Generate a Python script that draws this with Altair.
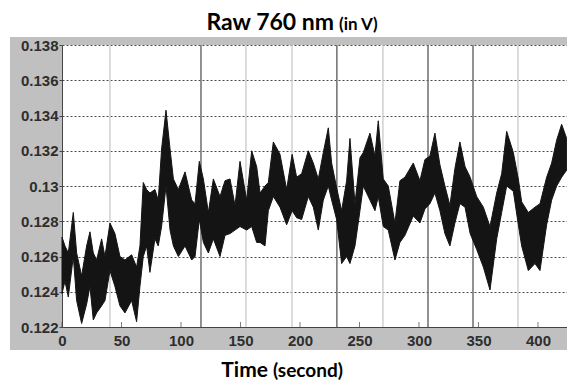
import altair as alt
import pandas as pd

# ---- data ----
t = [0, 2.5, 5.3, 9.5, 12.3, 16.5, 20.7, 23.5, 26.3, 29.1,
     33.3, 36.1, 40.3, 44.5, 48.7, 52.9, 58.5, 62.7, 65.5, 68.3,
     71.1, 73.9, 78.1, 80.9, 83.7,
     87.4, 90.8, 93.6, 97.8, 103.4, 109.0, 111.8, 115.4, 118.8, 123.0,
     127.2, 132.8, 137.0, 141.2, 145.4, 149.6, 155.2, 159.4, 163.6,
     166.4, 170.6, 173.4, 177.6, 183.2, 188.8, 193.4, 197.2, 201.4, 207.0,
     211.2, 215.4, 219.6, 223.8, 226.6, 230.8, 235.0, 239.2, 242.0, 246.2,
     250.4,
     253.2, 258.8, 263.0, 265.8, 270.0, 274.2, 279.8, 284.0, 288.2, 295.2,
     300.8, 305.0, 309.2, 313.4, 317.6, 321.8, 326.0, 330.2, 334.4,
     338.7, 343.0, 348.5, 354.1, 359.7, 365.3, 369.5, 373.7, 379.3, 383.5,
     386.3, 391.9, 397.5, 401.7, 407.3, 411.5, 415.7, 419.9, 424.1]

hi = [0.1271, 0.1266, 0.1262, 0.1285, 0.1262, 0.1249, 0.1266, 0.1274, 0.1262, 0.1258,
      0.1270, 0.1260, 0.1279, 0.1273, 0.1260, 0.1258, 0.1261, 0.1254, 0.1266, 0.1302,
      0.1298, 0.1296, 0.1298, 0.1292, 0.1321,
      0.1343, 0.1321, 0.1304, 0.1298, 0.1308, 0.1292, 0.1290, 0.1314, 0.1304, 0.1285,
      0.1304, 0.1294, 0.1303, 0.1304, 0.1289, 0.1314, 0.1292, 0.1320, 0.1311,
      0.1296, 0.1300, 0.1302, 0.1325, 0.1318, 0.1298, 0.1318, 0.1305, 0.1307, 0.1320,
      0.1313, 0.1304, 0.1319, 0.1333, 0.1313, 0.1299, 0.1286, 0.1303, 0.1327, 0.1290,
      0.1316,
      0.1319, 0.1330, 0.1317, 0.1337, 0.1304, 0.1300, 0.1279, 0.1303, 0.1305, 0.1313,
      0.1303, 0.1315, 0.1317, 0.1330, 0.1312, 0.1300, 0.1289, 0.1310, 0.1325,
      0.1311, 0.1305, 0.1294, 0.1288, 0.1277, 0.1296, 0.1307, 0.1331, 0.1319, 0.1304,
      0.1291, 0.1285, 0.1288, 0.1290, 0.1305, 0.1313, 0.1326, 0.1335, 0.1327]

lo = [0.1239, 0.1246, 0.1237, 0.1260, 0.1235, 0.1222, 0.1233, 0.1243, 0.1224, 0.1228,
      0.1232, 0.1235, 0.1252, 0.1243, 0.1232, 0.1228, 0.1235, 0.1223, 0.1243, 0.1260,
      0.1266, 0.1251, 0.1270, 0.1266, 0.1277,
      0.1300, 0.1275, 0.1266, 0.1260, 0.1266, 0.1258, 0.1260, 0.1281, 0.1268, 0.1262,
      0.1270, 0.1260, 0.1272, 0.1273, 0.1275, 0.1277, 0.1275, 0.1277, 0.1268,
      0.1268, 0.1266, 0.1286, 0.1294, 0.1288, 0.1278, 0.1286, 0.1282, 0.1281, 0.1294,
      0.1288, 0.1275, 0.1292, 0.1300, 0.1292, 0.1281, 0.1256, 0.1260, 0.1256, 0.1266,
      0.1286,
      0.1300, 0.1292, 0.1286, 0.1294, 0.1277, 0.1275, 0.1258, 0.1268, 0.1272, 0.1283,
      0.1279, 0.1287, 0.1290, 0.1296, 0.1286, 0.1273, 0.1266, 0.1279, 0.1290,
      0.1288, 0.1273, 0.1264, 0.1254, 0.1241, 0.1270, 0.1285, 0.1300, 0.1297, 0.1278,
      0.1266, 0.1252, 0.1256, 0.1252, 0.1278, 0.1292, 0.1300, 0.1305, 0.1309]

event_t = [40.3, 116.8, 154.6, 193.3, 231.0, 269.7, 307.6, 345.4, 383.2]
event_kind = ["light", "dark", "light", "light", "dark", "light", "dark", "dark", "light"]

x_ticks = [0, 50, 100, 150, 200, 250, 300, 350, 400]
y_ticks = [0.122, 0.124, 0.126, 0.128, 0.130, 0.132, 0.134, 0.136, 0.138]

title_main = "Raw 760 nm"
title_unit = "(in V)"
xlab_main = "Time"
xlab_unit = "(second)"

# ---- chart ----
W, H = 505, 282
PAD_L, PAD_T = 62, 45

sig = pd.DataFrame({"t": t, "hi": hi, "lo": lo})
ev = pd.DataFrame({"t": event_t, "kind": event_kind})
xt = pd.DataFrame({"t": x_ticks})
one = pd.DataFrame({"a": [0]})

xs = alt.Scale(domain=[0, 424.4], nice=False, zero=False)
ys = alt.Scale(domain=[0.122, 0.138], nice=False, zero=False)

lab = dict(labelFont="Liberation Sans", labelFontSize=15, labelFontWeight="bold",
           labelColor="#2e2e2e")

x_axis = alt.Axis(values=x_ticks, grid=False, ticks=False, domainColor="#444",
                  domainWidth=1, labelPadding=6, labelFlush=False,
                  labelOverlap=False, title=None, **lab)
y_axis = alt.Axis(values=y_ticks, format=".3~f", grid=True, gridDash=[2, 2],
                  gridColor="#4a4a4a", gridWidth=1, domainColor="#444", domainWidth=1,
                  tickColor="#444", tickSize=3, labelPadding=1, labelOverlap=False,
                  title=None, **lab)

x_enc = alt.X("t:Q", scale=xs, axis=x_axis, title=None)


def strip(x0, x1, y0, y1):
    return alt.Chart(one).mark_rect(color="white", clip=False).encode(
        x=alt.value(x0), x2=alt.value(x1), y=alt.value(y0), y2=alt.value(y1))


strips = [
    strip(-PAD_L, W, -PAD_T, -8),        # above gray frame
    strip(-PAD_L, W, 305, 383 - PAD_T),  # below gray frame
    strip(-PAD_L, -52, -8, 305),         # left of gray frame
]

rules = alt.Chart(ev).mark_rule(strokeWidth=1.5).encode(
    x=x_enc,
    color=alt.Color("kind:N", scale=alt.Scale(domain=["dark", "light"],
                                              range=["#6e6e6e", "#d0d0d0"]),
                    legend=None))

area = alt.Chart(sig).mark_area(color="#141414", stroke="#141414",
                                strokeWidth=1.0).encode(
    x=x_enc,
    y=alt.Y("lo:Q", scale=ys, axis=y_axis, title=None),
    y2="hi:Q")

ticks = alt.Chart(xt).mark_tick(color="#444", size=5, thickness=1).encode(
    x=x_enc, y=alt.value(H - 2.5))


def txt(s, x, y, size, align):
    return alt.Chart(pd.DataFrame({"s": [s]})).mark_text(
        align=align, baseline="alphabetic", font="Lato", fontWeight="bold",
        fontSize=size, color="black", clip=False).encode(
        text="s:N", x=alt.value(x), y=alt.value(y))


texts = [
    txt(title_main, 334 - PAD_L, 30 - PAD_T, 23, "right"),
    txt(title_unit, 339 - PAD_L, 30 - PAD_T, 17, "left"),
    txt(xlab_main, 268 - PAD_L, 377 - PAD_T, 21, "right"),
    txt(xlab_unit, 273 - PAD_L, 377 - PAD_T, 19, "left"),
]

chart = alt.layer(*strips, rules, area, ticks, *texts).properties(
    width=W, height=H,
    autosize=alt.AutoSizeParams(type="none"),
    padding={"left": PAD_L, "top": PAD_T, "right": 0, "bottom": 383 - PAD_T - H},
    background="#c0c0c0",
).configure_view(stroke=None, fill="white")

chart.save("out.html", embed_options={"renderer": "svg", "actions": False})
